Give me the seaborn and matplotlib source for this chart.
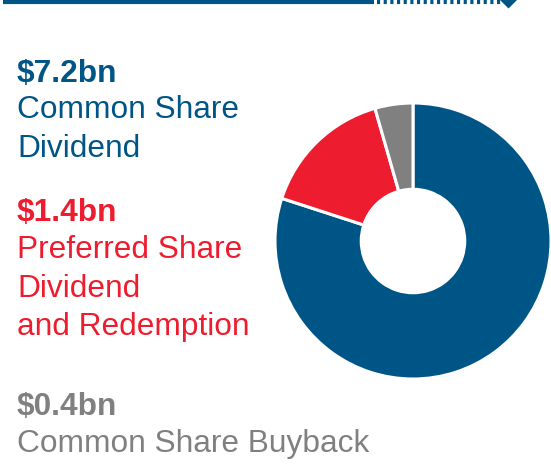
import matplotlib
matplotlib.use("Agg")
import matplotlib.pyplot as plt
import seaborn as sns

# Capital returned, $bn
labels = ["Common Share Dividend", "Preferred Share Dividend and Redemption", "Common Share Buyback"]
values = [7.2, 1.4, 0.4]
value_labels = ["$7.2bn", "$1.4bn", "$0.4bn"]
text_lines = [
    ["Common Share", "Dividend"],
    ["Preferred Share", "Dividend", "and Redemption"],
    ["Common Share Buyback"],
]
colors = ["#005587", "#ED1C2E", "#808080"]

sns.set_theme(style="white")
plt.rcParams["font.family"] = ["Liberation Sans", "DejaVu Sans"]

W, H = 551, 476
fig = plt.figure(figsize=(W / 100, H / 100), dpi=100)

# donut
cx, cy, r = 413, 241, 138
ax = fig.add_axes([(cx - r) / W, (H - cy - r) / H, 2 * r / W, 2 * r / H])
ax.pie(values, colors=colors, startangle=90, counterclock=False, radius=1,
       wedgeprops=dict(width=0.625, edgecolor="white", linewidth=2.2))
ax.set_xlim(-1.0, 1.0)
ax.set_ylim(-1.0, 1.0)
ax.axis("off")

# overlay in pixel coordinates for the header rule and text
ov = fig.add_axes([0, 0, 1, 1], zorder=-1)
ov.set_xlim(0, W)
ov.set_ylim(H, 0)
ov.axis("off")
ov.plot([3, 374], [2, 2], color="#005587", lw=3.0, solid_capstyle="butt")
ov.plot([377, 503], [2, 2], color="#005587", lw=3.0, linestyle=(0, (0.75, 0.85)))
ov.fill([500, 517, 508.5], [0, 0, 8.5], color="#005587", lw=0)

fs = 22.8
baselines = [
    [82, 118, 157],
    [221, 258, 297, 335],
    [415, 452],
]
for val, lines, col, ys in zip(value_labels, text_lines, colors, baselines):
    ov.text(17, ys[0], val, color=col, fontsize=fs, fontweight="bold",
            va="baseline", ha="left")
    for line, y in zip(lines, ys[1:]):
        ov.text(17, y, line, color=col, fontsize=fs, va="baseline", ha="left")

fig.savefig("out.png", dpi=100)
